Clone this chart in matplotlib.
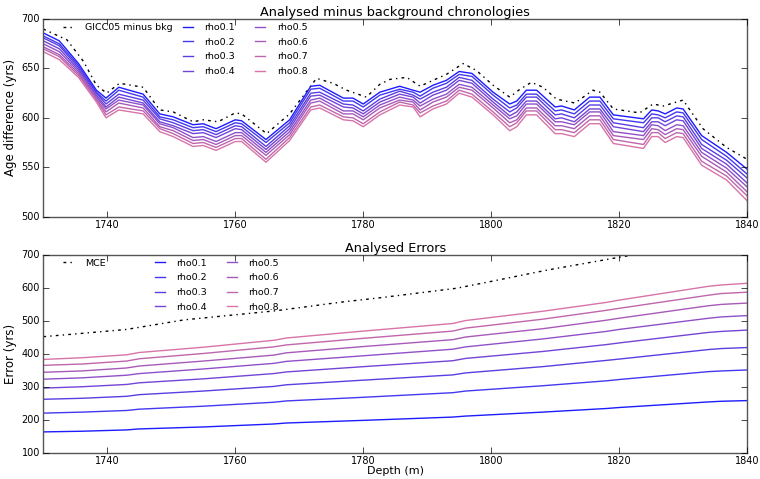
import numpy as np
import matplotlib
matplotlib.use('Agg')
from matplotlib import pyplot as plt

plt.style.use('classic')

# ---- top panel: analysed minus background ----
gicc_depth = [1730, 1733.7, 1736.3, 1738.3, 1739.9, 1741.9, 1745.6, 1748.2, 1750.3, 1753.4,
              1755, 1757.3, 1760, 1761, 1764.9, 1768.5, 1772.7, 1775.3, 1777.4, 1780.5,
              1782.6, 1784.2, 1786.8, 1788.9, 1790.9, 1793, 1795.6, 1797.7, 1800.3, 1802.9,
              1804.5, 1806.3, 1808.1, 1810.2, 1813.1, 1815.9, 1817, 1819.1, 1823.2, 1825.3,
              1826.9, 1830, 1833.1, 1836.8, 1840]
gicc = [690, 679, 657, 633, 625, 635, 631, 608, 606, 596,
        598, 596, 605, 604, 584, 604, 640, 635, 628, 621,
        634, 639, 641, 632, 638, 644, 655, 648, 633, 621,
        629, 636, 631, 619, 615, 628, 626, 609, 605, 614,
        612, 618, 589, 570, 558]

depth = [1730, 1732.5, 1735.5, 1738.3, 1739.8, 1741.8, 1745.6, 1748.2, 1750.3, 1753.4,
         1755, 1757, 1760, 1761, 1764.8, 1768.5, 1771.8, 1773.2, 1776.9, 1778.4,
         1780, 1782.6, 1785.7, 1787.8, 1788.9, 1790.9, 1793, 1795, 1797, 1800.3,
         1802.9, 1804, 1805.5, 1807.1, 1810, 1811, 1813, 1815.4, 1817, 1819.1,
         1823.8, 1825.1, 1826.1, 1827.2, 1829, 1830, 1832.9, 1836.8, 1840]

diff_rho01 = [686, 678, 655, 628, 620, 631, 624, 604, 601, 593, 594, 589, 598, 597, 578, 598, 632, 633, 620, 620,
              614, 626, 632, 628, 626, 633, 638, 647, 645, 626, 614, 617, 628, 628, 611, 612, 608, 621, 621, 603,
              599, 608, 607, 604, 610, 609, 582, 565, 548]
diff_rho02 = [683, 675, 653, 626, 617, 628, 621, 601, 598, 590, 591, 586, 595, 594, 575, 595, 629, 630, 617, 617,
              611, 623, 629, 626, 622, 630, 635, 644, 642, 623, 610, 613, 624, 624, 607, 608, 604, 617, 617, 599,
              595, 604, 603, 600, 606, 605, 578, 561, 543]
diff_rho03 = [681, 673, 651, 625, 614, 624, 618, 599, 595, 587, 588, 583, 592, 591, 571, 592, 625, 626, 614, 613,
              607, 619, 627, 623, 619, 626, 631, 641, 638, 619, 606, 610, 621, 621, 603, 604, 600, 613, 613, 595,
              590, 600, 600, 596, 602, 601, 573, 557, 539]
diff_rho04 = [678, 670, 649, 623, 611, 621, 615, 596, 592, 584, 585, 580, 589, 588, 568, 589, 622, 623, 611, 610,
              604, 616, 624, 621, 615, 623, 628, 638, 635, 616, 602, 606, 617, 617, 599, 600, 596, 609, 609, 591,
              586, 596, 596, 592, 598, 597, 569, 553, 534]
diff_rho05 = [675, 667, 647, 621, 609, 618, 613, 594, 590, 580, 581, 576, 585, 585, 565, 586, 618, 620, 607, 607,
              601, 613, 621, 618, 612, 619, 624, 634, 631, 613, 599, 602, 614, 614, 596, 596, 593, 606, 606, 586,
              582, 593, 592, 587, 593, 592, 565, 549, 530]
diff_rho06 = [672, 664, 645, 619, 606, 615, 610, 591, 587, 577, 578, 573, 582, 582, 562, 583, 615, 617, 604, 604,
              598, 610, 618, 616, 608, 616, 621, 631, 628, 610, 595, 598, 610, 610, 592, 592, 589, 602, 602, 582,
              578, 589, 588, 583, 589, 588, 561, 545, 525]
diff_rho07 = [670, 662, 643, 618, 603, 611, 607, 589, 584, 574, 575, 570, 579, 579, 558, 580, 611, 613, 601, 600,
              594, 606, 616, 613, 605, 612, 617, 628, 624, 606, 591, 595, 607, 607, 588, 588, 585, 598, 598, 578,
              573, 585, 585, 579, 585, 584, 556, 541, 521]
diff_rho08 = [667, 659, 641, 616, 600, 608, 604, 586, 581, 571, 572, 567, 576, 576, 555, 577, 608, 610, 598, 597,
              591, 603, 613, 611, 601, 609, 614, 625, 621, 603, 587, 591, 603, 603, 584, 584, 581, 594, 594, 574,
              569, 581, 581, 575, 581, 580, 552, 537, 516]

# ---- bottom panel: analysed errors ----
mce_depth = [1730, 1736, 1743, 1752, 1766.5, 1777, 1782.6, 1794.6, 1799.8, 1808.7, 1820, 1830, 1840]
mce = [452, 462, 474, 503, 531, 558, 570, 599, 619, 654, 693, 725, 755]

err_depth = [1730, 1736, 1743, 1745, 1755, 1766, 1768, 1780, 1794, 1796, 1808, 1818, 1820, 1834, 1836, 1840]
err_rho01 = [163, 165, 169, 172, 178, 187, 190, 198, 208, 211, 223, 234, 237, 254, 256, 258]
err_rho02 = [220, 223, 228, 232, 241, 253, 257, 268, 282, 287, 303, 318, 322, 346, 348, 351]
err_rho03 = [262, 265, 271, 276, 287, 301, 306, 320, 336, 342, 361, 380, 384, 413, 416, 419]
err_rho04 = [296, 300, 307, 312, 324, 340, 345, 361, 379, 386, 407, 428, 433, 465, 468, 472]
err_rho05 = [323, 327, 335, 340, 354, 371, 377, 394, 414, 421, 445, 468, 474, 508, 512, 516]
err_rho06 = [344, 348, 357, 363, 378, 396, 403, 422, 443, 451, 476, 502, 508, 546, 550, 554]
err_rho07 = [365, 369, 378, 385, 401, 421, 427, 447, 469, 478, 505, 532, 538, 578, 583, 587]
err_rho08 = [383, 388, 397, 404, 420, 441, 448, 469, 492, 501, 529, 556, 563, 605, 609, 614]

labels = ['rho0.1', 'rho0.2', 'rho0.3', 'rho0.4', 'rho0.5', 'rho0.6', 'rho0.7', 'rho0.8']
colors = ['#1c1cff', '#4438f0', '#5a3ee2', '#7444d6', '#9050c8', '#a85ab8', '#c066ac', '#d874a8']

diffs = [diff_rho01, diff_rho02, diff_rho03, diff_rho04, diff_rho05, diff_rho06, diff_rho07, diff_rho08]
errs = [err_rho01, err_rho02, err_rho03, err_rho04, err_rho05, err_rho06, err_rho07, err_rho08]

fig = plt.figure(figsize=(7.6, 4.79), dpi=100, facecolor='white')
ax1 = fig.add_axes([0.057, 0.548, 0.926, 0.412])
ax2 = fig.add_axes([0.057, 0.055, 0.926, 0.4127])

leg_kw = dict(frameon=False, fontsize=6.8, handlelength=1.7, handletextpad=0.9,
              labelspacing=0.6, borderaxespad=0.0, borderpad=0.3)
dot_dash = (2, 3, 1, 3)

# top
g, = ax1.plot(gicc_depth, gicc, '-.', color='black', lw=1.0, dashes=dot_dash)
rho_lines = []
for vals, c, lab in zip(diffs, colors, labels):
    l, = ax1.plot(depth, vals, '-', color=c, lw=1.0)
    rho_lines.append(l)
ax1.set_xlim(1730, 1840)
ax1.set_ylim(500, 700)
ax1.set_yticks(np.arange(500, 701, 50))
ax1.set_ylabel('Age difference (yrs)', fontsize=8.5, labelpad=3)
ax1.set_title('Analysed minus background chronologies', fontsize=9.3, pad=2)
lg1 = ax1.legend([g], ['GICC05 minus bkg'], loc='upper left', bbox_to_anchor=(0.02, 0.995), **leg_kw)
ax1.add_artist(lg1)
ax1.legend(rho_lines, labels, loc='upper left', bbox_to_anchor=(0.19, 0.995), ncol=2,
           columnspacing=1.8, **leg_kw)

# bottom
m, = ax2.plot(mce_depth, mce, '-.', color='black', lw=1.0, dashes=dot_dash)
err_lines = []
for vals, c, lab in zip(errs, colors, labels):
    l, = ax2.plot(err_depth, vals, '-', color=c, lw=1.0)
    err_lines.append(l)
ax2.set_xlim(1730, 1840)
ax2.set_ylim(100, 700)
ax2.set_ylabel('Error (yrs)', fontsize=8.5, labelpad=3)
ax2.set_xlabel('Depth (m)', fontsize=8, labelpad=0)
ax2.set_title('Analysed Errors', fontsize=9.3, pad=2)
lg2 = ax2.legend([m], ['MCE'], loc='upper left', bbox_to_anchor=(0.02, 0.995), **leg_kw)
ax2.add_artist(lg2)
ax2.legend(err_lines, labels, loc='upper left', bbox_to_anchor=(0.15, 0.995), ncol=2,
           columnspacing=1.8, **leg_kw)

for ax in (ax1, ax2):
    ax.set_xticks([1740, 1760, 1780, 1800, 1820, 1840])
    ax.tick_params(labelsize=7, pad=2.5)
    for sp in ax.spines.values():
        sp.set_color('#555555')

fig.savefig('out.png', dpi=100, facecolor='white')
